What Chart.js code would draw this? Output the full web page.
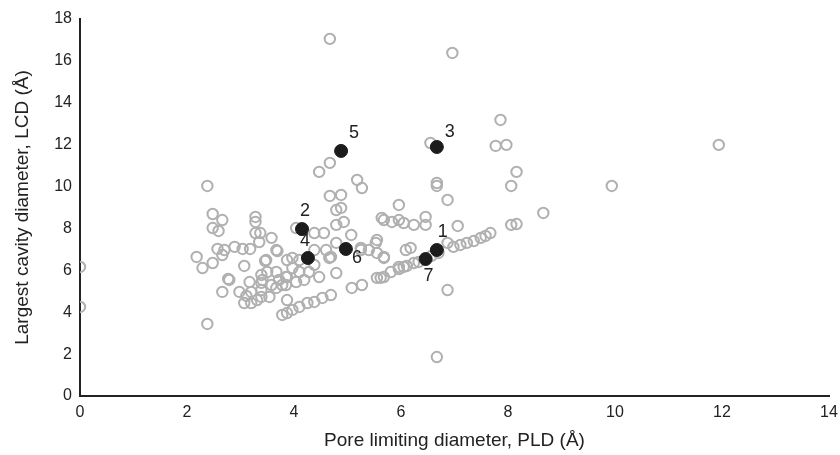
<!DOCTYPE html>
<html>
<head>
<meta charset="utf-8">
<script src="https://cdn.jsdelivr.net/npm/chart.js@4/dist/chart.umd.min.js"></script>
<style>
  html, body { margin: 0; padding: 0; background: #fff; }
  #wrap { width: 840px; height: 455px; }
</style>
</head>
<body>
<div id="wrap"><canvas id="scatter"></canvas></div>
<script>
// all structures (grey circles)
const pldAll = [
  0, 0, 2.38, 2.38, 4.67, 6.96, 7.86, 7.77, 7.97, 6.55, 8.16, 8.06, 11.94, 9.94, 8.66, 6.67, 6.87, 6.67, 6.67, 6.87,
  7.06, 8.06, 8.16, 4.67, 4.47, 5.18, 5.27, 4.67, 4.88, 4.79, 4.88, 4.79, 5.07, 4.56, 4.38, 4.04, 5.96, 5.68, 5.83, 5.96,
  6.05, 6.46, 6.46, 6.24, 5.25, 5.40, 5.55, 5.55, 5.68, 6.09, 6.18, 6.05, 5.96, 6.24, 4.79, 4.69, 4.47, 5.08, 5.27, 5.55,
  5.68, 4.69, 4.53, 4.38, 4.25, 4.10, 3.97, 3.78, 3.87, 6.33, 6.70, 6.87, 6.98, 7.11, 7.23, 7.36, 7.49, 7.58, 7.67, 5.81,
  5.96, 6.11, 6.57, 2.48, 2.66, 2.48, 2.59, 3.28, 3.28, 3.37, 3.28, 3.58, 3.35, 2.57, 2.70, 2.89, 3.04, 3.18, 3.69, 2.18,
  2.29, 2.48, 2.66, 3.46, 3.07, 2.77, 2.66, 2.98, 3.07, 3.20, 3.17, 3.39, 3.39, 3.39, 3.39, 3.50, 3.67, 3.58, 3.67, 3.85,
  3.72, 3.85, 3.87, 3.97, 3.87, 3.20, 3.11, 3.31, 4.38, 4.60, 4.66, 4.79, 4.38, 4.28, 3.97, 4.10, 3.87, 4.04, 4.19, 3.78,
  3.41, 2.79, 3.54, 4.93, 5.25, 5.53, 5.68, 5.64, 5.62, 4.10, 3.48, 3.67
];
const lcdAll = [
  6.16, 4.25, 10.03, 3.44, 17.05, 16.38, 13.18, 11.94, 11.99, 12.08, 10.70, 10.03, 11.99, 10.03, 8.74, 1.86, 5.06, 10.17, 10.03, 9.36,
  8.12, 8.17, 8.21, 11.13, 10.70, 10.32, 9.93, 9.55, 9.60, 8.88, 8.98, 8.17, 7.69, 7.78, 7.78, 8.02, 9.12, 8.40, 8.31, 8.40,
  8.26, 8.55, 8.17, 8.17, 6.97, 6.97, 7.45, 6.83, 6.64, 6.97, 7.07, 6.16, 6.16, 6.35, 5.87, 6.64, 5.68, 5.16, 5.30, 5.64,
  5.68, 4.82, 4.68, 4.49, 4.44, 4.25, 4.11, 3.87, 3.96, 6.40, 6.83, 7.31, 7.12, 7.21, 7.31, 7.40, 7.55, 7.64, 7.78, 5.92,
  6.06, 6.21, 6.69, 8.69, 8.40, 8.02, 7.88, 8.55, 8.31, 7.78, 7.78, 7.55, 7.35, 7.02, 6.97, 7.12, 7.02, 7.02, 6.92, 6.64,
  6.11, 6.35, 6.73, 6.45, 6.21, 5.59, 4.97, 4.97, 4.44, 4.44, 5.44, 5.78, 5.40, 5.06, 4.73, 5.92, 5.92, 5.30, 5.16, 5.68,
  5.54, 5.30, 4.58, 6.59, 6.49, 4.97, 4.78, 4.58, 6.97, 6.97, 6.59, 7.31, 6.26, 5.92, 6.11, 5.92, 5.68, 5.44, 5.54, 5.30,
  5.54, 5.54, 4.73, 8.31, 7.07, 7.31, 6.59, 8.50, 5.64, 6.49, 6.49, 6.97
];

// numbered structures (black dots)
const pointNames = ['1', '2', '3', '4', '5', '6', '7'];
const pldMarked = [6.67, 4.15, 6.67, 4.26, 4.88, 4.97, 6.46];
const lcdMarked = [6.97, 7.97, 11.89, 6.59, 11.70, 7.02, 6.54];

const xTicks = [0, 2, 4, 6, 8, 10, 12, 14];
const yTicks = [0, 2, 4, 6, 8, 10, 12, 14, 16, 18];

// where each number sits relative to its dot (px)
const labelOffsets = [[6, -18], [3, -18], [13, -15], [-3, -17], [13, -18], [11, 9], [3, 17]];

const textColor = '#222';
const fontFamily = '"Liberation Sans", Arial, sans-serif';

function toPoints(xs, ys) {
    const pts = [];
    for (let i = 0; i < xs.length; i++) {
        pts.push({x: xs[i], y: ys[i]});
    }
    return pts;
}

const numberLabels = {
    id: 'numberLabels',
    afterDatasetsDraw(chart) {
        const ctx = chart.ctx;
        const xs = chart.scales.x;
        const ys = chart.scales.y;
        ctx.save();
        ctx.fillStyle = textColor;
        ctx.font = '18px ' + fontFamily;
        ctx.textAlign = 'center';
        ctx.textBaseline = 'middle';
        for (let i = 0; i < pointNames.length; i++) {
            const px = xs.getPixelForValue(pldMarked[i]) + labelOffsets[i][0];
            const py = ys.getPixelForValue(lcdMarked[i]) + labelOffsets[i][1];
            ctx.fillText(pointNames[i], px, py);
        }
        ctx.restore();
    }
};

new Chart(document.getElementById('scatter'), {
    type: 'scatter',
    data: {
        datasets: [
            {
                label: 'marked',
                data: toPoints(pldMarked, lcdMarked),
                pointRadius: 6.5,
                pointBackgroundColor: '#1c1c1c',
                pointBorderColor: '#1c1c1c',
                pointBorderWidth: 1
            },
            {
                label: 'all',
                data: toPoints(pldAll, lcdAll),
                pointRadius: 5.2,
                pointBackgroundColor: 'rgba(0,0,0,0)',
                pointBorderColor: '#b0b0b0',
                pointBorderWidth: 2
            }
        ]
    },
    options: {
        responsive: true,
        maintainAspectRatio: false,
        animation: false,
        layout: { padding: { top: 19, right: 0, left: 0, bottom: 0 } },
        plugins: {
            legend: { display: false },
            tooltip: { enabled: false }
        },
        scales: {
            x: {
                type: 'linear',
                min: 0,
                max: 14,
                afterBuildTicks: function(scale) {
                    scale.ticks = xTicks.map(function(v) { return {value: v}; });
                },
                afterFit: function(scale) {
                    scale.height = 59;
                    scale.paddingLeft = 0;
                    scale.paddingRight = 11;
                },
                grid: { display: false, drawTicks: false },
                border: { color: '#222', width: 2 },
                ticks: { color: textColor, padding: 7, font: { size: 16, family: fontFamily } },
                title: {
                    display: true,
                    text: 'Pore limiting diameter, PLD (Å)',
                    color: textColor,
                    font: { size: 19, family: fontFamily },
                    padding: { top: 4, bottom: 3 }
                }
            },
            y: {
                type: 'linear',
                min: 0,
                max: 18,
                afterBuildTicks: function(scale) {
                    scale.ticks = yTicks.map(function(v) { return {value: v}; });
                },
                afterFit: function(scale) { scale.width = 80; },
                grid: { display: false, drawTicks: false },
                border: { color: '#222', width: 2 },
                ticks: { color: textColor, padding: 8, font: { size: 16, family: fontFamily } },
                title: {
                    display: true,
                    text: 'Largest cavity diameter, LCD (Å)',
                    color: textColor,
                    font: { size: 19, family: fontFamily },
                    padding: { top: 11, bottom: 0 }
                }
            }
        }
    },
    plugins: [numberLabels]
});
</script>
</body>
</html>
